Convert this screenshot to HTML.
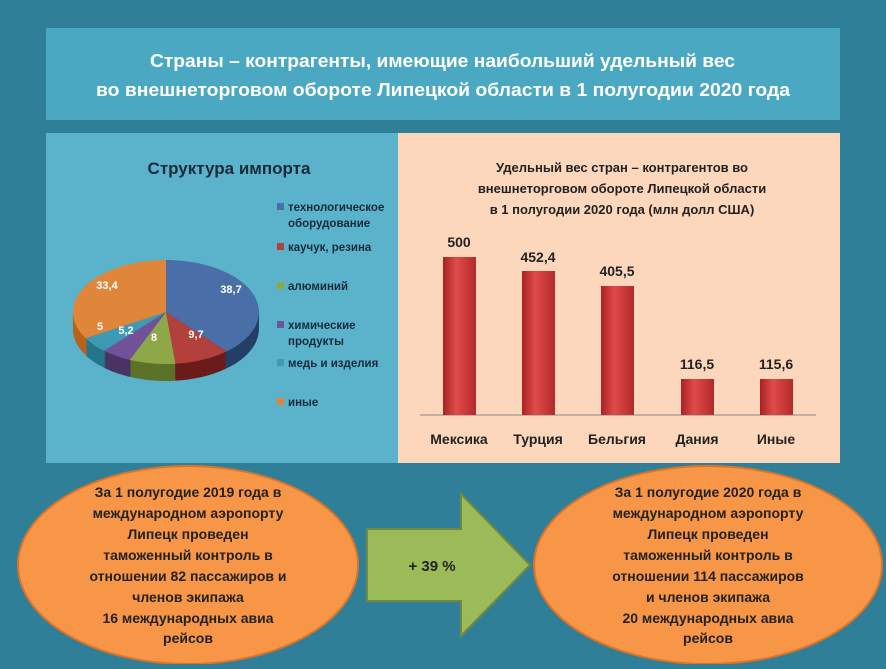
<!DOCTYPE html>
<html><head><meta charset="utf-8"><style>
body{margin:0;width:886px;height:664px;overflow:hidden;background:#307f99;font-family:"Liberation Sans","Noto Sans CJK SC",sans-serif}
svg text{font-family:"Liberation Sans","Noto Sans CJK SC",sans-serif}
</style></head><body>
<svg width="886" height="664" viewBox="0 0 886 664">
<defs>
<linearGradient id="bar" x1="0" x2="1" y1="0" y2="0"><stop offset="0" stop-color="#a82224"/><stop offset="0.4" stop-color="#e04a4a"/><stop offset="1" stop-color="#b32a2b"/></linearGradient>
<g id="dk">
<path d="M166,312 L166,260 A93,52 0 0 1 226.6,351.4 Z" fill="#243f66"/>
<path d="M166,312 L226.6,351.4 A93,52 0 0 1 175.4,363.7 Z" fill="#6b1c1a"/>
<path d="M166,312 L175.4,363.7 A93,52 0 0 1 129.7,359.9 Z" fill="#5d7229"/>
<path d="M166,312 L129.7,359.9 A93,52 0 0 1 104,350.8 Z" fill="#4a3263"/>
<path d="M166,312 L104,350.8 A93,52 0 0 1 85.6,338.2 Z" fill="#24768b"/>
<path d="M166,312 L85.6,338.2 A93,52 0 0 1 166,260 Z" fill="#b8621c"/>
</g>
</defs>
<rect width="886" height="664" fill="#307f99"/>
<rect x="46" y="28" width="794" height="92" fill="#4aa8c2"/>
<text x="150" y="67" textLength="585" lengthAdjust="spacingAndGlyphs" font-size="18" font-weight="bold" fill="#fff">Страны – контрагенты, имеющие  наибольший удельный вес</text>
<text x="96" y="96" textLength="694" lengthAdjust="spacingAndGlyphs" font-size="18" font-weight="bold" fill="#fff">во внешнеторговом обороте Липецкой области в 1 полугодии 2020 года</text>
<rect x="46" y="133" width="352" height="330" fill="#5ab3cb"/>
<rect x="398" y="133" width="442" height="330" fill="#fdd7bc"/>
<text x="229" y="174" text-anchor="middle" font-size="17" font-weight="bold" fill="#1a2a3a">Структура импорта</text>
<use href="#dk" y="17"/><use href="#dk" y="15"/><use href="#dk" y="13"/><use href="#dk" y="11"/><use href="#dk" y="9"/><use href="#dk" y="7"/><use href="#dk" y="5"/><use href="#dk" y="3"/><use href="#dk" y="1"/>
<path d="M166,312 L166,260 A93,52 0 0 1 226.6,351.4 Z" fill="#4a6fa8"/>
<path d="M166,312 L226.6,351.4 A93,52 0 0 1 175.4,363.7 Z" fill="#b3403c"/>
<path d="M166,312 L175.4,363.7 A93,52 0 0 1 129.7,359.9 Z" fill="#8ea849"/>
<path d="M166,312 L129.7,359.9 A93,52 0 0 1 104,350.8 Z" fill="#71529a"/>
<path d="M166,312 L104,350.8 A93,52 0 0 1 85.6,338.2 Z" fill="#3d9ab4"/>
<path d="M166,312 L85.6,338.2 A93,52 0 0 1 166,260 Z" fill="#e0863a"/>
<g font-size="11" font-weight="bold" fill="#fff" text-anchor="middle">
<text x="231" y="293">38,7</text><text x="196" y="338">9,7</text><text x="154" y="341">8</text><text x="126" y="334">5,2</text><text x="100" y="330">5</text><text x="107" y="289">33,4</text>
</g>
<g font-size="11.5" font-weight="bold" fill="#1a2a3a">
<rect x="277" y="203" width="7" height="7" fill="#4a6fa8"/><text x="288" y="211">технологическое</text><text x="288" y="227">оборудование</text>
<rect x="277" y="243" width="7" height="7" fill="#b3403c"/><text x="288" y="251">каучук, резина</text>
<rect x="277" y="282" width="7" height="7" fill="#8ea849"/><text x="288" y="290">алюминий</text>
<rect x="277" y="321" width="7" height="7" fill="#71529a"/><text x="288" y="329">химические</text><text x="288" y="345">продукты</text>
<rect x="277" y="359" width="7" height="7" fill="#3d9ab4"/><text x="288" y="367">медь и изделия</text>
<rect x="277" y="398" width="7" height="7" fill="#e0863a"/><text x="288" y="406">иные</text>
</g>
<g font-size="13" font-weight="bold" fill="#222" text-anchor="middle">
<text x="622" y="172">Удельный вес стран – контрагентов во</text>
<text x="622" y="193">внешнеторговом обороте Липецкой области</text>
<text x="622" y="214">в 1 полугодии 2020 года (млн долл США)</text>
</g>
<line x1="420" y1="415" x2="816" y2="415" stroke="#888" stroke-width="1"/>
<rect x="443" y="257" width="33" height="158" fill="url(#bar)"/>
<rect x="522" y="271" width="33" height="144" fill="url(#bar)"/>
<rect x="601" y="286" width="33" height="129" fill="url(#bar)"/>
<rect x="681" y="379" width="33" height="36" fill="url(#bar)"/>
<rect x="760" y="379" width="33" height="36" fill="url(#bar)"/>
<g font-size="14" font-weight="bold" fill="#222" text-anchor="middle">
<text x="459" y="247">500</text><text x="538" y="262">452,4</text><text x="617" y="276">405,5</text><text x="697" y="369">116,5</text><text x="776" y="369">115,6</text>
<text x="459" y="444">Мексика</text><text x="538" y="444">Турция</text><text x="617" y="444">Бельгия</text><text x="697" y="444">Дания</text><text x="776" y="444">Иные</text>
</g>
<ellipse cx="188" cy="565" rx="170" ry="99" fill="#f79646" stroke="#d9742a" stroke-width="2"/>
<ellipse cx="708" cy="565" rx="174" ry="99" fill="#f79646" stroke="#d9742a" stroke-width="2"/>
<path d="M367,529 L461,529 L461,494 L530,565 L461,636 L461,601 L367,601 Z" fill="#9bbb59" stroke="#71893f" stroke-width="2"/>
<text x="432" y="571" text-anchor="middle" font-size="15" font-weight="bold" fill="#222">+ 39 %</text>
<g font-size="14" font-weight="bold" fill="#222" text-anchor="middle">
<text x="188" y="497">За 1 полугодие 2019 года  в</text>
<text x="188" y="518">международном аэропорту</text>
<text x="188" y="539">Липецк проведен</text>
<text x="188" y="560">таможенный контроль в</text>
<text x="188" y="581">отношении 82 пассажиров и</text>
<text x="188" y="602">членов экипажа</text>
<text x="188" y="623">16 международных авиа</text>
<text x="188" y="643">рейсов</text>
<text x="708" y="497">За 1 полугодие  2020 года  в</text>
<text x="708" y="518">международном аэропорту</text>
<text x="708" y="539">Липецк проведен</text>
<text x="708" y="560">таможенный контроль в</text>
<text x="708" y="581">отношении  114 пассажиров</text>
<text x="708" y="602">и членов экипажа</text>
<text x="708" y="623">20 международных авиа</text>
<text x="708" y="643">рейсов</text>
</g>
</svg>
</body></html>
